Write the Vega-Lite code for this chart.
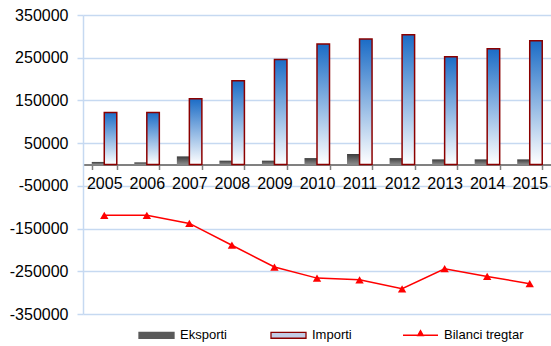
{
  "$schema": "https://vega.github.io/schema/vega-lite/v6.json",
  "width": 468,
  "height": 299,
  "autosize": {"type": "none"},
  "padding": {"left": 83, "top": 15, "right": 0, "bottom": 32},
  "config": {
    "view": {"stroke": null},
    "font": "Liberation Sans",
    "legend": {
      "orient": "none",
      "legendX": 55,
      "legendY": 301.5,
      "direction": "horizontal",
      "columns": 3,
      "gridAlign": "all",
      "columnPadding": 8,
      "padding": 0,
      "labelFontSize": 13,
      "labelColor": "#000000",
      "labelOffset": 5,
      "symbolSize": 1225,
      "symbolStrokeWidth": 1.3,
      "symbolOpacity": 1
    }
  },
  "data": {
    "values": [
      {"year": "2005", "series": "Eksporti", "value": 6000},
      {"year": "2006", "series": "Eksporti", "value": 5000},
      {"year": "2007", "series": "Eksporti", "value": 19000},
      {"year": "2008", "series": "Eksporti", "value": 9000},
      {"year": "2009", "series": "Eksporti", "value": 9000},
      {"year": "2010", "series": "Eksporti", "value": 15000},
      {"year": "2011", "series": "Eksporti", "value": 24600},
      {"year": "2012", "series": "Eksporti", "value": 15000},
      {"year": "2013", "series": "Eksporti", "value": 12000},
      {"year": "2014", "series": "Eksporti", "value": 12000},
      {"year": "2015", "series": "Eksporti", "value": 12000},
      {"year": "2005", "series": "Importi", "value": 122000},
      {"year": "2006", "series": "Importi", "value": 122000},
      {"year": "2007", "series": "Importi", "value": 154000},
      {"year": "2008", "series": "Importi", "value": 196000},
      {"year": "2009", "series": "Importi", "value": 246000},
      {"year": "2010", "series": "Importi", "value": 282000},
      {"year": "2011", "series": "Importi", "value": 294000},
      {"year": "2012", "series": "Importi", "value": 304000},
      {"year": "2013", "series": "Importi", "value": 252000},
      {"year": "2014", "series": "Importi", "value": 271000},
      {"year": "2015", "series": "Importi", "value": 290000},
      {"year": "2005", "series": "Bilanci tregtar", "value": -119000},
      {"year": "2006", "series": "Bilanci tregtar", "value": -119000},
      {"year": "2007", "series": "Bilanci tregtar", "value": -138000},
      {"year": "2008", "series": "Bilanci tregtar", "value": -189000},
      {"year": "2009", "series": "Bilanci tregtar", "value": -240000},
      {"year": "2010", "series": "Bilanci tregtar", "value": -266000},
      {"year": "2011", "series": "Bilanci tregtar", "value": -270000},
      {"year": "2012", "series": "Bilanci tregtar", "value": -291000},
      {"year": "2013", "series": "Bilanci tregtar", "value": -244000},
      {"year": "2014", "series": "Bilanci tregtar", "value": -262000},
      {"year": "2015", "series": "Bilanci tregtar", "value": -279000}
    ]
  },
  "encoding": {
    "x": {
      "field": "year",
      "type": "ordinal",
      "scale": {"paddingInner": 0.412, "paddingOuter": 0.206},
      "axis": {
        "title": null,
        "orient": "bottom",
        "offset": -149.5,
        "labelAngle": 0,
        "labelFontSize": 16,
        "labelColor": "#000000",
        "labelPadding": 6,
        "domainColor": "#808080",
        "domainWidth": 2,
        "tickColor": "#808080",
        "tickWidth": 1.5,
        "tickSize": 5,
        "tickBand": "extent",
        "grid": false
      }
    },
    "y": {
      "field": "value",
      "type": "quantitative",
      "scale": {"domain": [-350000, 350000], "nice": false, "zero": false},
      "axis": {
        "title": null,
        "values": [-350000, -250000, -150000, -50000, 50000, 150000, 250000, 350000],
        "labelExpr": "'' + datum.value",
        "labelFontSize": 16,
        "labelColor": "#000000",
        "labelPadding": 9,
        "domainColor": "#c6d9f1",
        "domainWidth": 1.5,
        "tickColor": "#c6d9f1",
        "tickWidth": 1.5,
        "tickSize": 6,
        "grid": true,
        "gridColor": "#c6d9f1",
        "gridWidth": 1.5
      }
    }
  },
  "layer": [
    {
      "transform": [{"filter": "datum.series !== 'Bilanci tregtar'"}],
      "mark": {"type": "bar", "strokeWidth": 1.5},
      "encoding": {
        "xOffset": {"field": "series", "type": "nominal", "scale": {"domain": ["Eksporti", "Importi"], "paddingInner": 0, "paddingOuter": 0}},
        "fill": {
          "field": "series",
          "type": "nominal",
          "scale": {"domain": ["Eksporti", "Importi", "Bilanci tregtar"], "range": ["#5a5a5a", "#c3cde6", "#ff0000"]},
          "condition": [
            {"test": "datum.series === 'Importi'", "value": {"gradient": "linear", "x1": 0, "y1": 0, "x2": 0, "y2": 1, "stops": [{"offset": 0, "color": "#1b6cc6"}, {"offset": 1, "color": "#ffffff"}]}},
            {"test": "datum.series === 'Eksporti'", "value": {"gradient": "linear", "x1": 0, "y1": 0, "x2": 0, "y2": 1, "stops": [{"offset": 0, "color": "#3c3c3c"}, {"offset": 1, "color": "#8c8c8c"}]}}
          ],
          "legend": {
            "title": null,
            "symbolType": {"expr": "datum.value === 'Bilanci tregtar' ? 'M-1,0H1M0,-0.27L0.16,0.02L-0.16,0.02Z' : 'M-1,-0.17H1V0.17H-1Z'"}
          }
        },
        "stroke": {
          "field": "series",
          "type": "nominal",
          "scale": {"domain": ["Eksporti", "Importi", "Bilanci tregtar"], "range": ["#5a5a5a", "#8b0000", "#ff0000"]},
          "condition": {"test": "datum.series === 'Eksporti'", "value": "transparent"},
          "legend": {
            "title": null,
            "symbolType": {"expr": "datum.value === 'Bilanci tregtar' ? 'M-1,0H1M0,-0.27L0.16,0.02L-0.16,0.02Z' : 'M-1,-0.17H1V0.17H-1Z'"}
          }
        }
      }
    },
    {
      "transform": [{"filter": "datum.series === 'Bilanci tregtar'"}],
      "mark": {
        "type": "line",
        "strokeWidth": 1.5,
        "point": {"shape": "triangle-up", "size": 70, "filled": true, "fill": "#ff0000", "strokeWidth": 0, "opacity": 1}
      },
      "encoding": {
        "stroke": {
          "field": "series",
          "type": "nominal",
          "scale": {"domain": ["Eksporti", "Importi", "Bilanci tregtar"], "range": ["#5a5a5a", "#8b0000", "#ff0000"]},
          "legend": {
            "title": null,
            "symbolType": {"expr": "datum.value === 'Bilanci tregtar' ? 'M-1,0H1M0,-0.27L0.16,0.02L-0.16,0.02Z' : 'M-1,-0.17H1V0.17H-1Z'"}
          }
        }
      }
    }
  ]
}
